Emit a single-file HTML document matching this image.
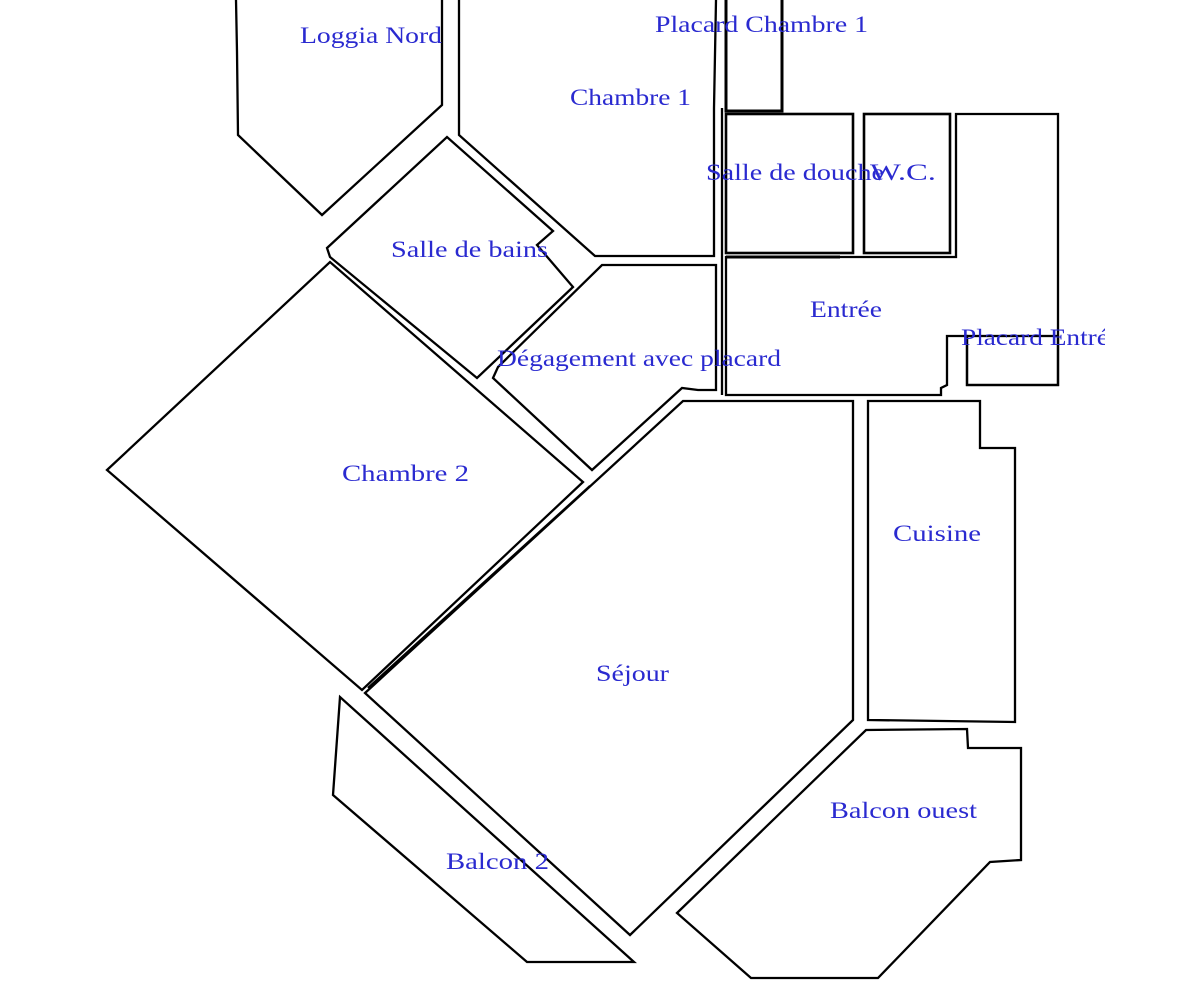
<!DOCTYPE html>
<html><head><meta charset="utf-8"><style>
html,body{margin:0;padding:0;background:#fff;}
svg{display:block;}
text{font-family:"Liberation Serif",serif;font-size:23px;fill:#2a2ad0;}
</style></head><body>
<svg width="1179" height="1000" viewBox="0 0 1179 1000" xmlns="http://www.w3.org/2000/svg">
<defs><clipPath id="c"><rect x="0" y="0" width="1105" height="1000"/></clipPath></defs>
<g fill="none" stroke="#000" stroke-width="2.3" stroke-linejoin="miter">
<polyline points="236,0 237,52 238,135 322,215 442,105 442,0"/>
<polyline points="459,0 459,135 595,256 714,256 714,108 716,0"/>
<polyline points="726,0 726,111 782,111 782,0" stroke-width="3"/>
<polygon points="327,248 447,137 553,231 537,245 573,287 477,378 330,257"/>
<polygon points="107,470 330,262 583,482 362,690"/>
<polygon points="602,265 716,265 716,390 698,390 682,388 592,470 493,378 498,367"/>
<rect x="726" y="114" width="127" height="139" stroke-width="2.6"/>
<rect x="864" y="114" width="86" height="139" stroke-width="2.6"/>
<polygon points="726,257 956,257 956,114 1058,114 1058,385 967,385 967,336 947,336 947,385 941,388 941,395 726,395"/>
<line x1="726" y1="257" x2="840" y2="257" stroke-width="3"/>
<line x1="722" y1="108" x2="722" y2="395"/>
<rect x="967" y="336" width="91" height="49"/>
<polygon points="683,401 853,401 853,720 630,935 365,693"/>
<line x1="368" y1="688" x2="590" y2="486"/>
<polygon points="868,401 980,401 980,448 1015,448 1015,722 868,720"/>
<polygon points="866,730 967,729 968,748 1021,748 1021,860 990,862 878,978 751,978 677,913"/>
<polygon points="340,697 333,795 527,962 634,962"/>
</g>
<text x="300" y="43" textLength="142" lengthAdjust="spacingAndGlyphs">Loggia Nord</text>
<text x="655" y="32" textLength="213" lengthAdjust="spacingAndGlyphs">Placard Chambre 1</text>
<text x="570" y="105" textLength="121" lengthAdjust="spacingAndGlyphs">Chambre 1</text>
<text x="706" y="180" textLength="178" lengthAdjust="spacingAndGlyphs">Salle de douche</text>
<text x="870" y="180" textLength="66" lengthAdjust="spacingAndGlyphs">W.C.</text>
<text x="391" y="257" textLength="157" lengthAdjust="spacingAndGlyphs">Salle de bains</text>
<text x="810" y="317" textLength="72" lengthAdjust="spacingAndGlyphs">Entrée</text>
<g clip-path="url(#c)"><text x="961" y="345" textLength="160" lengthAdjust="spacingAndGlyphs">Placard Entrée</text></g>
<text x="497" y="366" textLength="284" lengthAdjust="spacingAndGlyphs">Dégagement avec placard</text>
<text x="342" y="481" textLength="127" lengthAdjust="spacingAndGlyphs">Chambre  2</text>
<text x="893" y="541" textLength="88" lengthAdjust="spacingAndGlyphs">Cuisine</text>
<text x="596" y="681" textLength="73" lengthAdjust="spacingAndGlyphs">Séjour</text>
<text x="830" y="818" textLength="147" lengthAdjust="spacingAndGlyphs">Balcon ouest</text>
<text x="446" y="869" textLength="103" lengthAdjust="spacingAndGlyphs">Balcon 2</text>
</svg>
</body></html>
